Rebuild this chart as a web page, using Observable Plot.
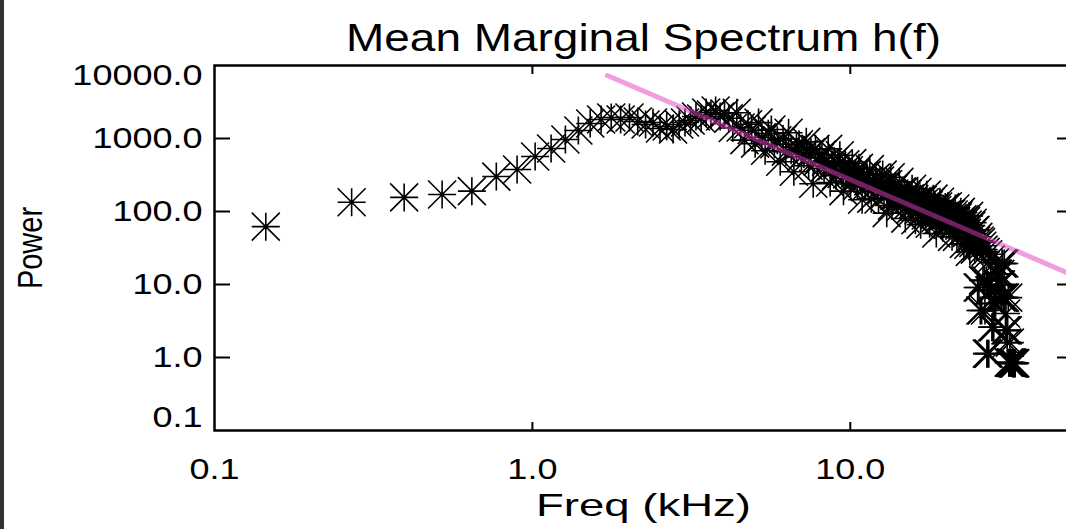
<!DOCTYPE html>
<html><head><meta charset="utf-8">
<script src="https://cdn.jsdelivr.net/npm/d3@7"></script>
<script src="https://cdn.jsdelivr.net/npm/@observablehq/plot@0.6"></script>
<style>
html,body{margin:0;padding:0;background:#fff;overflow:hidden;}
#strip{position:absolute;left:0;top:0;width:4px;height:529px;background:#2f3135;}
</style></head><body>
<div id="chart"></div><div id="strip"></div>
<script>
const freqs = [
0.145,0.27,0.395,0.52,0.645,0.77,0.895,1.02,
1.145,1.27,1.395,1.52,1.645,1.77,1.895,2.02,
2.145,2.27,2.395,2.52,2.645,2.77,2.895,3.02,
3.145,3.27,3.395,3.52,3.645,3.77,3.895,4.02,
4.145,4.27,4.395,4.52,4.645,4.77,4.895,5.02,
5.145,5.27,5.395,5.52,5.645,5.77,5.895,6.02,
6.145,6.27,6.395,6.52,6.645,6.77,6.895,7.02,
7.145,7.27,7.395,7.52,7.645,7.77,7.895,8.02,
8.145,8.27,8.395,8.52,8.645,8.77,8.895,9.02,
9.145,9.27,9.395,9.52,9.645,9.77,9.895,10.02,
10.145,10.27,10.395,10.52,10.645,10.77,10.895,11.02,
11.145,11.27,11.395,11.52,11.645,11.77,11.895,12.02,
12.145,12.27,12.395,12.52,12.645,12.77,12.895,13.02,
13.145,13.27,13.395,13.52,13.645,13.77,13.895,14.02,
14.145,14.27,14.395,14.52,14.645,14.77,14.895,15.02,
15.145,15.27,15.395,15.52,15.645,15.77,15.895,16.02,
16.145,16.27,16.395,16.52,16.645,16.77,16.895,17.02,
17.145,17.27,17.395,17.52,17.645,17.77,17.895,18.02,
18.145,18.27,18.395,18.52,18.645,18.77,18.895,19.02,
19.145,19.27,19.395,19.52,19.645,19.77,19.895,20.02,
20.145,20.27,20.395,20.52,20.645,20.77,20.895,21.02,
21.145,21.27,21.395,21.52,21.645,21.77,21.895,22.02,
22.145,22.27,22.395,22.52,22.645,22.77,22.895,23.02,
23.145,23.27,23.395,23.52,23.645,23.77,23.895,24.02,
24.145,24.27,24.395,24.52,24.645,24.77,24.895,25.02,
25.145,25.27,25.395,25.52,25.645,25.77,25.895,26.02,
26.145,26.27,26.395,26.52,26.645,26.77,26.895,27.02,
27.145,27.27,27.395,27.52,27.645,27.77,27.895,28.02,
28.145,28.27,28.395,28.52,28.645,28.77,28.895,29.02,
29.145,29.27,29.395,29.52,29.645,29.77,29.895,30.02,
30.145,30.27,30.395,30.52,30.645,30.77,30.895,31.02,
31.145,31.27,31.395,31.52,31.645,31.77,31.895,32.02,
32.145,32.27,32.395,32.52,32.645,32.77,32.895,33.02
];
const power = [
62,134,156,171,190,301,376,566,
729,968,1288,1603,1820,1940,1820,1940,
1710,1555,1656,1370,1459,1327,1555,1656,
1766,2000,1878,2270,2132,2420,2000,2198,
1890,1395,2250,1415,950,1565,1300,850,
1650,1035,680,1166,1326,833,945,480,
983,660,1200,693,350,756,834,561,
613,900,424,649,240,722,482,542,
606,392,478,720,250,418,492,310,
446,590,328,190,442,323,368,238,
460,282,337,224,396,273,145,314,
215,317,259,380,150,268,215,291,
240,146,265,195,320,167,226,95,
236,184,295,120,202,163,223,148,
171,255,116,189,137,191,80,161,
176,125,151,108,205,124,148,76,
138,185,104,144,66,123,144,102,
134,88,170,108,122,68,135,97,
106,150,89,116,50,105,117,78,
136,86,102,60,109,86,115,75,
92,118,66,92,73,94,45,81,
91,65,110,74,45,83,89,64,
73,99,52,78,64,36,78,56,
74,51,66,35,87,28,42,64,
50,70,37,55,30,56,40,34,
9.1,45,9.1,40,4.4,38,4.4,34,
11.4,30,11.4,4.4,28,11.4,1.13,1.13,
26,1.13,8.3,8.3,22,8.3,2.6,2.6,
5.5,2.6,5.5,20,5.5,14,14,14,
14,10,10,10,14,10,6.6,19.4,
19.4,6.6,6.6,19.4,6.6,2.35,4,2.35,
1.6,2.35,6.6,0.85,0.85,1.6,0.85,0.85,
0.84,0.85,0.83,0.84,0.83,0.83,0.84,0.83
];
const fitFreq = [1.72, 50];
const fitPower = [7300, 13.5];
const xTicks = [0.1, 1, 10];
const xInnerTicks = [1, 10];
const yInnerTicks = [1, 10, 100, 1000];
const yTopTick = [10000];
const yBottomTick = [0.1];
const titleText = "Mean Marginal Spectrum h(f)";
const xLabel = "Freq (kHz)";
const yLabel = "Power";

const points = freqs.map((f, i) => ({f, p: power[i]}));
const fit = fitFreq.map((f, i) => ({f, p: fitPower[i]}));
const fmt = d3.format(".1f");

const star = {
  draw(ctx, size) {
    const r = Math.sqrt(size / Math.PI);
    ctx.moveTo(-r, 0); ctx.lineTo(r, 0);
    ctx.moveTo(0, -r); ctx.lineTo(0, r);
    ctx.moveTo(-r, -r); ctx.lineTo(r, r);
    ctx.moveTo(-r, r); ctx.lineTo(r, -r);
  }
};

const font = "Liberation Sans, Arial, Helvetica, sans-serif";
const noText = () => "";

const chart = Plot.plot({
  width: 1066,
  height: 529,
  marginLeft: 214,
  marginRight: -6,
  marginTop: 65,
  marginBottom: 99,
  style: {fontFamily: font, fontSize: "30px", color: "black", background: "white"},
  x: {type: "log", domain: [0.1, 50]},
  y: {type: "log", domain: [0.1, 10000]},
  marks: [
    Plot.dot(points, {x: "f", y: "p", symbol: star, r: 14, stroke: "black", strokeWidth: 1.6, fill: "none"}),
    Plot.line(fit, {x: "f", y: "p", stroke: "#e040c0", strokeOpacity: 0.5, strokeWidth: 5}),
    Plot.frame({stroke: "black", strokeWidth: 2.5}),
    Plot.axisY({anchor: "left", ticks: yInnerTicks, tickSize: -16, strokeWidth: 2, tickFormat: noText, label: null}),
    Plot.axisY({anchor: "right", ticks: yInnerTicks, tickSize: -16, strokeWidth: 2, tickFormat: noText, label: null}),
    Plot.axisX({anchor: "bottom", ticks: xInnerTicks, tickSize: -8, strokeWidth: 2, tickFormat: noText, label: null}),
    Plot.axisX({anchor: "top", ticks: xInnerTicks, tickSize: -8, strokeWidth: 2, tickFormat: noText, label: null}),
    Plot.axisY({anchor: "left", ticks: yInnerTicks, tickSize: 0, tickPadding: 12, tickFormat: fmt, label: null, fill: "black"}),
    Plot.axisY({anchor: "left", ticks: yTopTick, tickSize: 0, tickPadding: 12, tickFormat: fmt, label: null, dy: 10, fill: "black"}),
    Plot.axisY({anchor: "left", ticks: yBottomTick, tickSize: 0, tickPadding: 12, tickFormat: fmt, label: null, dy: -13, fill: "black"}),
    Plot.axisX({anchor: "bottom", ticks: xTicks, tickSize: 0, tickPadding: 27, tickFormat: fmt, label: null, fill: "black"}),
    Plot.text([titleText], {frameAnchor: "top", textAnchor: "middle", lineAnchor: "middle", dy: -27, fontSize: 39, fill: "black"}),
    Plot.text([xLabel], {frameAnchor: "bottom", textAnchor: "middle", lineAnchor: "middle", dy: 75, fontSize: 32, fill: "black"}),
    Plot.text([yLabel], {frameAnchor: "left", textAnchor: "middle", lineAnchor: "middle", dx: -184, rotate: -90, fontSize: 29, fill: "black"})
  ]
});
document.getElementById("chart").appendChild(chart);

// the reference's lettering is wider than the font: widen each label
chart.querySelectorAll("text").forEach(t => {
  const s = t.textContent;
  if (!s) return;
  if (s === yLabel) {
    const tr = t.getAttribute("transform");
    t.setAttribute("transform", (tr ? tr + " " : "") + "scale(1,1.2)");
    return;
  }
  const len = t.getComputedTextLength();
  const target = s === titleText ? 595 : s === xLabel ? 215 : len * 1.2;
  t.setAttribute("textLength", target);
  t.setAttribute("lengthAdjust", "spacingAndGlyphs");
});
</script>
</body></html>
